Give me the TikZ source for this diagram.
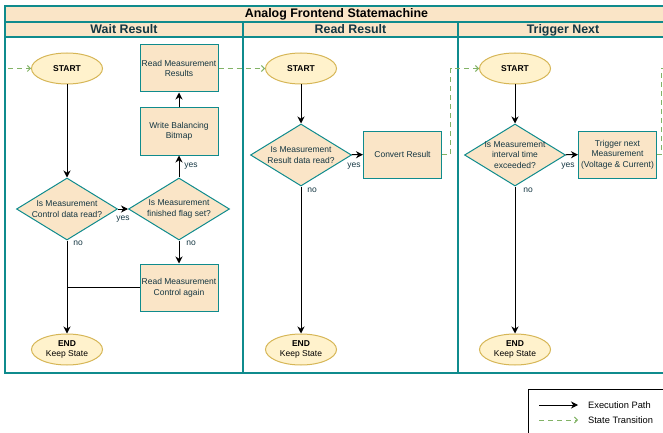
\documentclass[tikz,border=0pt]{standalone}
\usepackage{fontspec}
\setmainfont{Liberation Sans}
\usetikzlibrary{shapes.geometric,arrows.meta}
\definecolor{lanefill}{HTML}{FAE5C7}
\definecolor{lanestroke}{HTML}{0F8B8D}
\definecolor{inktext}{HTML}{143642}
\definecolor{termfill}{HTML}{FFF2CC}
\definecolor{termstroke}{HTML}{D6B656}
\definecolor{transgreen}{HTML}{82B366}

\begin{document}
\begin{tikzpicture}[x=1pt,y=-1pt,
  basefont/.style={font=\fontsize{8.5}{10.6}\selectfont},
  process/.style={basefont, rectangle, draw=lanestroke, fill=lanefill, line width=1pt,
    minimum width=78pt, minimum height=47pt, inner sep=0pt, align=center, text=inktext},
  decision/.style={diamond, draw=lanestroke, fill=lanefill, line width=1pt,
    minimum width=101pt, minimum height=62pt, inner sep=0pt},
  dtext/.style={basefont, align=center, text=inktext, inner sep=0pt},
  terminal/.style={basefont, ellipse, draw=termstroke, fill=termfill, line width=1pt,
    minimum width=71pt, minimum height=31pt, inner sep=0pt, align=center},
  exec/.style={line width=1pt, -{Stealth[length=7pt,width=7pt,inset=2.2pt]}},
  trans/.style={transgreen, line width=1pt, dash pattern=on 5pt off 4pt,
    -{Straight Barb[length=3pt,width=6pt]}},
  branch/.style={basefont, text=inktext, inner sep=0pt},
  headfont/.style={font=\fontsize{12.4}{14}\selectfont\bfseries,
    text height=9pt, text depth=2.6pt, inner sep=0pt},
  lanetitle/.style={headfont, text=inktext},
  legendtext/.style={font=\fontsize{9.3}{11}\selectfont, anchor=west, inner sep=0pt},
]
\path[use as bounding box, clip] (0,0) rectangle (663,433);

% pool frame, title bar and lane headers
\fill[lanefill] (5,6) rectangle (668,37);
\draw[lanestroke, line width=1.2pt] (5,6) rectangle (668,373);
\draw[lanestroke, line width=1.2pt] (5,22) -- (668,22) (5,37) -- (668,37)
  (243,22) -- (243,373) (458,22) -- (458,373);

\node[headfont] (title) at (336.5,14.5) {Analog Frontend Statemachine};
\node[lanetitle] (lane1) at (124,30) {Wait Result};
\node[lanetitle] (lane2) at (350.5,30) {Read Result};
\node[lanetitle] (lane3) at (563,30) {Trigger Next};

% lane: Wait Result
\node[terminal] (s1) at (67,68.5) {\textbf{START}};
\node[process] (rr) at (179,68.5) {Read Measurement\\Results};
\node[process] (wb) at (179,131.5) {Write Balancing\\Bitmap};
\node[decision] (d1) at (67,209) {};
\node[dtext] (d1t) at (d1) {Is Measurement\\Control data read?};
\node[decision] (d2) at (179,209) {};
\node[dtext] (d2t) at (d2) {Is Measurement\\finished flag set?};
\node[process] (rc) at (179,287.5) {Read Measurement\\Control again};
\node[terminal] (e1) at (67,349.5) {\textbf{END}\\Keep State};

% lane: Read Result
\node[terminal] (s2) at (301,68.5) {\textbf{START}};
\node[decision] (d3) at (301,155) {};
\node[dtext] (d3t) at (d3) {Is Measurement\\Result data read?};
\node[process] (cv) at (402.5,154.5) {Convert Result};
\node[terminal] (e2) at (301,349.5) {\textbf{END}\\Keep State};

% lane: Trigger Next
\node[terminal] (s3) at (515,68.5) {\textbf{START}};
\node[decision] (d4) at (515,155) {};
\node[dtext] (d4t) at (d4) {Is Measurement\\interval time\\exceeded?};
\node[process] (tr) at (617.5,154.5) {Trigger next\\Measurement\\(Voltage \& Current)};
\node[terminal] (e3) at (515,349.5) {\textbf{END}\\Keep State};

% execution paths
\draw[exec] (s1) -- (d1);
\draw[exec] (d1) -- (e1);
\draw[exec] (d1) -- (d2);
\draw[exec] (d2) -- (wb);
\draw[exec] (wb) -- (rr);
\draw[exec] (d2) -- (rc);
\draw[line width=1pt] (rc.west) -- (rc.west -| d1.center);

\draw[exec] (s2) -- (d3);
\draw[exec] (d3) -- (e2);
\draw[exec] (d3) -- (cv);

\draw[exec] (s3) -- (d4);
\draw[exec] (d4) -- (e3);
\draw[exec] (d4) -- (tr);

% branch labels
\node[branch] (n1) at (78,243) {no};
\node[branch] (y1) at (123,219) {yes};
\node[branch] (y2) at (191,166) {yes};
\node[branch] (n2) at (191,243) {no};
\node[branch] (y3) at (354,166) {yes};
\node[branch] (n3) at (312,190) {no};
\node[branch] (y4) at (568,166) {yes};
\node[branch] (n4) at (528,190) {no};

% state transitions
\coordinate (in1) at (8,68.5);
\coordinate (out3) at (680,68.5);
\draw[trans] (in1) -- (s1);
\draw[trans] (rr) -- (s2);
\draw[trans] (cv.east) -- ++(8.5,0) |- (s3.west);
\draw[trans] (tr.east) -- ++(4.5,0) |- (out3);

% legend
\draw[line width=0.8pt] (528,389) rectangle (720,460);
\coordinate (lx1) at (539,405);
\coordinate (lx2) at (578,405);
\coordinate (ly1) at (539,420);
\coordinate (ly2) at (578,420);
\draw[exec] (lx1) -- (lx2);
\draw[trans] (ly1) -- (ly2);
\node[legendtext] (lt1) at (588,405) {Execution Path};
\node[legendtext] (lt2) at (588,420) {State Transition};
\end{tikzpicture}
\end{document}
